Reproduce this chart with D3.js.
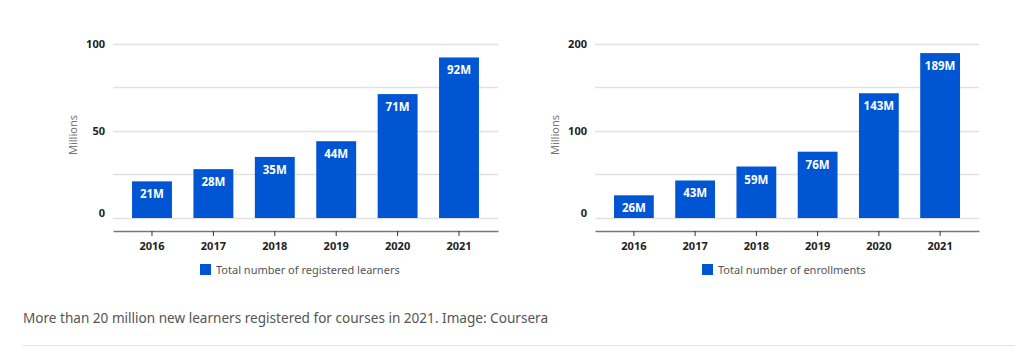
<!DOCTYPE html>
<html>
<head>
<meta charset="utf-8">
<script src="https://cdn.jsdelivr.net/npm/d3@7"></script>
<style>
  body { margin: 0; background: #fff; }
  svg { display: block; }
  text { font-family: "Noto Sans", "Open Sans", sans-serif; }
</style>
</head>
<body>
<svg id="chart" width="1015" height="353"></svg>
<script>
// data
const years = ["2016", "2017", "2018", "2019", "2020", "2021"];
const learners = [21, 28, 35, 44, 71, 92];
const enrollments = [26, 43, 59, 76, 143, 189];
const learnerTicks = [0, 50, 100];
const enrollTicks = [0, 100, 200];
const learnerGrid = [0, 25, 50, 75, 100];
const enrollGrid = [0, 50, 100, 150, 200];
const caption = "More than 20 million new learners registered for courses in 2021. Image: Coursera";

const svg = d3.select("#chart");
const blue = "#0056d2";

function drawPanel(opts) {
    const g = svg.append("g");

    const x = d3.scaleBand()
        .domain(years)
        .range([opts.x0, opts.x1])
        .paddingInner(0.35)
        .paddingOuter(0.31);

    const y = d3.scaleLinear()
        .domain([0, opts.max])
        .range([218, 43.5]);

    // gridlines
    g.selectAll(".grid")
        .data(opts.grid)
        .join("line")
        .attr("x1", opts.x0).attr("x2", opts.x1)
        .attr("y1", d => Math.round(y(d)) + 0.5)
        .attr("y2", d => Math.round(y(d)) + 0.5)
        .attr("stroke", "#e1e1e1")
        .attr("stroke-width", 1.3);

    // y tick labels (the zero label sits just above its line)
    g.selectAll(".ytick")
        .data(opts.ticks)
        .join("text")
        .attr("x", opts.x0 - 8)
        .attr("y", d => y(d) + (d === 0 ? -1 : 4))
        .attr("text-anchor", "end")
        .attr("font-size", 11)
        .attr("font-weight", "bold")
        .attr("fill", "#222")
        .text(d => d);

    // y axis title
    g.append("text")
        .attr("transform", `translate(${opts.x0 - 36},135) rotate(-90)`)
        .attr("text-anchor", "middle")
        .attr("font-size", 11)
        .attr("fill", "#777")
        .text("Millions");

    // bars
    g.selectAll(".bar")
        .data(opts.values)
        .join("rect")
        .attr("x", (d, i) => x(years[i]))
        .attr("y", d => y(d))
        .attr("width", x.bandwidth())
        .attr("height", d => y(0) - y(d))
        .attr("fill", blue);

    // bar labels
    g.selectAll(".lbl")
        .data(opts.values)
        .join("text")
        .attr("x", (d, i) => x(years[i]) + x.bandwidth() / 2)
        .attr("y", d => y(d) + 17)
        .attr("text-anchor", "middle")
        .attr("font-size", 11.5)
        .attr("font-weight", "bold")
        .attr("fill", "#fff")
        .text(d => d + "M");

    // x axis
    const xAxis = g.append("g")
        .attr("transform", "translate(0,231)")
        .call(d3.axisBottom(x).tickSize(5).tickPadding(6).tickSizeOuter(0));
    xAxis.select(".domain").attr("stroke", "#777").attr("stroke-width", 1.5);
    xAxis.selectAll(".tick line").attr("stroke", "#333");
    xAxis.selectAll(".tick text")
        .attr("font-family", "\"Noto Sans\", sans-serif")
        .attr("font-size", 11)
        .attr("font-weight", "bold")
        .attr("fill", "#222");

    // legend
    g.append("rect")
        .attr("x", opts.legendX).attr("y", 264)
        .attr("width", 11).attr("height", 11)
        .attr("fill", blue);
    g.append("text")
        .attr("x", opts.legendX + 16).attr("y", 273.5)
        .attr("font-size", 11)
        .attr("fill", "#555")
        .text(opts.legend);
}

drawPanel({
    x0: 113, x1: 498, max: 100,
    values: learners, ticks: learnerTicks, grid: learnerGrid,
    legendX: 200, legend: "Total number of registered learners"
});

drawPanel({
    x0: 595, x1: 979, max: 200,
    values: enrollments, ticks: enrollTicks, grid: enrollGrid,
    legendX: 702, legend: "Total number of enrollments"
});

// caption
svg.append("text")
    .attr("x", 23).attr("y", 323)
    .attr("font-size", 14)
    .attr("fill", "#555")
    .attr("textLength", 525)
    .attr("lengthAdjust", "spacingAndGlyphs")
    .text(caption);

svg.append("line")
    .attr("x1", 23).attr("x2", 1015)
    .attr("y1", 345.5).attr("y2", 345.5)
    .attr("stroke", "#e3e3e3");
</script>
</body>
</html>
